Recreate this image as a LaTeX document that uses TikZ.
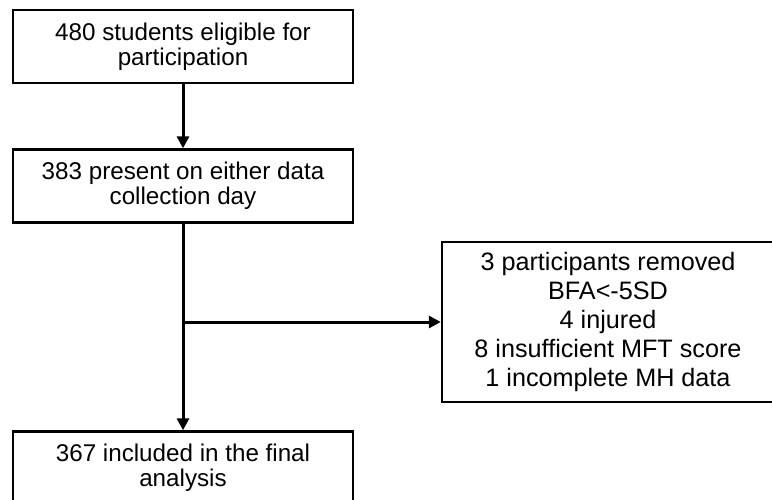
\documentclass[tikz,border=0pt]{standalone}
\usepackage{fontspec}
\setmainfont{Liberation Sans}
\usetikzlibrary{arrows.meta}
\begin{document}
\begin{tikzpicture}[x=1pt,y=-1pt,
  flowbox/.style={draw=black,line width=2.4pt,minimum width=340pt,minimum height=73pt,
    align=center,inner sep=0pt,font=\fontsize{24.2}{25}\selectfont,
    execute at begin node={\rule{0pt}{28pt}}},
  sidebox/.style={draw=black,line width=2.4pt,minimum width=332pt,minimum height=160pt,
    align=center,inner sep=0pt,font=\fontsize{25.2}{29}\selectfont},
  flowarrow/.style={line width=3pt,-{Triangle[length=12pt,width=12pt]}}]
  \path[use as bounding box] (0,0) rectangle (772,499);
  \clip (0,0) rectangle (772,499);
  \fill[white] (0,0) rectangle (772,499);

  \node[flowbox] (eligible) at (183,46.5) {480 students eligible for\\participation};
  \node[flowbox] (present) at (183,186) {383 present on either data\\collection day};
  \node[flowbox] (final) at (183,468) {367 included in the final\\analysis};
  \node[sidebox] (removed) at (608,322) {3 participants removed\\BFA<-5SD\\4 injured\\8 insufficient MFT score\\1 incomplete MH data};

  \coordinate (branch) at (present.south |- removed.west);
  \draw[flowarrow] (eligible) -- (present);
  \draw[flowarrow] (present) -- (final);
  \draw[flowarrow] (branch) -- (removed.west);
\end{tikzpicture}
\end{document}
